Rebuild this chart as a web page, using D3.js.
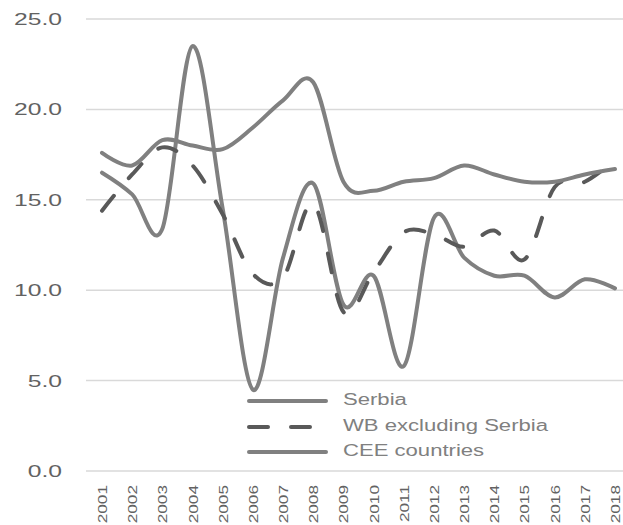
<!DOCTYPE html>
<html lang="en">

<head>
    <meta charset="UTF-8">
    <title>Serbia, WB and CEE</title>
    <script src="https://d3js.org/d3.v7.min.js"></script>
    <style>
        body {
            margin: 0;
            background: #ffffff;
        }

        svg text {
            font-family: "Liberation Sans", Arial, sans-serif;
        }

        .grid line {
            stroke: #d9d9d9;
            stroke-width: 1.5;
        }

        .axis text {
            fill: #626262;
        }

        .legend text {
            fill: #808080;
            font-size: 16px;
        }
    </style>
</head>

<body>
    <div id="chart"></div>
    <script>
        // values
        const years = ["2001", "2002", "2003", "2004", "2005", "2006", "2007", "2008", "2009",
            "2010", "2011", "2012", "2013", "2014", "2015", "2016", "2017", "2018"];
        const serbia = [16.5, 15.3, 13.4, 23.5, 14.5, 4.5, 11.8, 15.9, 9.2,
            10.8, 5.8, 14.0, 11.8, 10.8, 10.8, 9.6, 10.6, 10.1];
        const wbExSerbia = [14.4, 16.4, 17.9, 16.9, 14.2, 10.9, 10.7, 14.8, 8.8,
            11.0, 13.2, 13.1, 12.4, 13.3, 11.7, 15.7, 16.0, 17.2];
        const cee = [17.6, 16.9, 18.3, 18.0, 17.8, 19.0, 20.5, 21.5, 16.0,
            15.5, 16.0, 16.2, 16.9, 16.4, 16.0, 16.0, 16.4, 16.7];
        const yTicks = [0, 5, 10, 15, 20, 25];
        const seriesNames = ["Serbia", "WB excluding Serbia", "CEE countries"];

        const width = 623;
        const height = 525;

        const svg = d3.select("#chart")
            .append("svg")
            .attr("width", width)
            .attr("height", height);

        const x = d3.scalePoint()
            .domain(years)
            .range([102, 615]);

        const y = d3.scaleLinear()
            .domain([0, 25])
            .range([471, 19]);

        // horizontal gridlines
        svg.append("g")
            .attr("class", "grid")
            .selectAll("line")
            .data(yTicks)
            .enter()
            .append("line")
            .attr("x1", 86)
            .attr("x2", width)
            .attr("y1", d => y(d))
            .attr("y2", d => y(d));

        // y axis labels
        const yAxis = svg.append("g")
            .attr("class", "axis")
            .attr("transform", "translate(86,0)")
            .call(d3.axisLeft(y).tickValues(yTicks).tickFormat(d3.format(".1f")).tickSize(0).tickPadding(24));
        yAxis.select(".domain").remove();
        yAxis.selectAll("text").style("font-size", "17px");

        // x axis labels, rotated
        const xAxis = svg.append("g")
            .attr("class", "axis")
            .attr("transform", "translate(0,471)")
            .call(d3.axisBottom(x).tickSize(0));
        xAxis.select(".domain").remove();
        xAxis.selectAll("text")
            .style("font-size", "12.5px")
            .attr("transform", "rotate(-90)")
            .attr("text-anchor", "end")
            .attr("x", -14)
            .attr("y", 0)
            .attr("dy", "0.36em");

        // lines
        const line = d3.line()
            .x((d, i) => x(years[i]))
            .y(d => y(d))
            .curve(d3.curveCatmullRom.alpha(0));

        const styles = [
            { color: "#808080", dash: null },
            { color: "#595959", dash: "19,23" },
            { color: "#808080", dash: null }
        ];

        [serbia, wbExSerbia, cee].forEach((values, k) => {
            svg.append("path")
                .datum(values)
                .attr("d", line)
                .attr("fill", "none")
                .attr("stroke", styles[k].color)
                .attr("stroke-width", 4)
                .attr("stroke-linecap", "round")
                .attr("stroke-linejoin", "round")
                .attr("stroke-dasharray", styles[k].dash);
        });

        // legend
        const legendRows = [401, 427, 452];
        const legend = svg.append("g").attr("class", "legend");
        const items = legend.selectAll("g")
            .data(seriesNames)
            .enter()
            .append("g")
            .attr("transform", (d, i) => `translate(0,${legendRows[i]})`);

        items.append("line")
            .attr("x1", 249)
            .attr("x2", 326)
            .attr("stroke", (d, i) => styles[i].color)
            .attr("stroke-width", 4)
            .attr("stroke-linecap", "round")
            .attr("stroke-dasharray", (d, i) => styles[i].dash);

        items.append("text")
            .attr("x", 343)
            .attr("y", 4)
            .text(d => d);

        // the picture's lettering is wide: stretch along the baseline
        function stretch(sel, factor) {
            sel.each(function () {
                const len = this.getComputedTextLength();
                d3.select(this)
                    .attr("textLength", len * factor)
                    .attr("lengthAdjust", "spacingAndGlyphs");
            });
        }
        stretch(yAxis.selectAll("text"), 1.45);
        stretch(xAxis.selectAll("text"), 1.38);
        stretch(legend.selectAll("text"), 1.38);
    </script>
</body>

</html>
